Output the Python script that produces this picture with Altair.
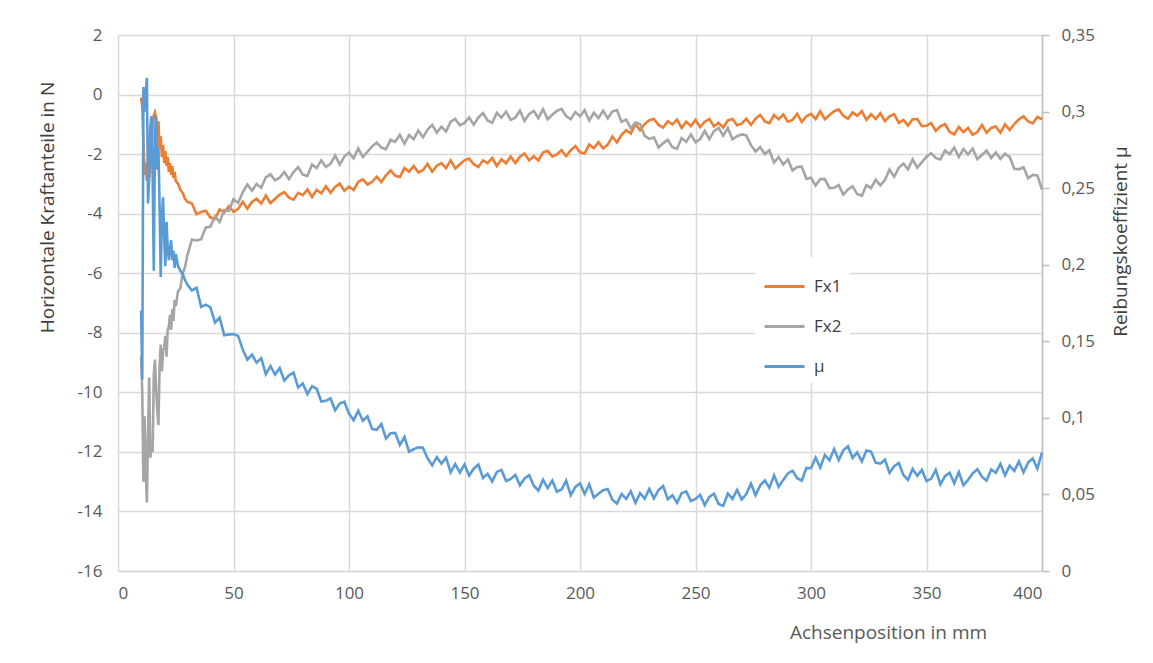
import altair as alt
import pandas as pd

# sample positions (mm)
x_pos = [10 + 0.5 * i for i in range(31)] + [26, 27, 28, 29, 30] + [32 + 2 * i for i in range(185)]

fx1 = [
    -0.1, -0.4, -1.6, -2.7, -2.3, -2.9, -2.1, -2.8, -2.4, -1.9,
    -1.1, -0.7, -0.6, -0.8, -1.4, -0.9, -1.8, -1.4, -2.1, -1.7,
    -2.3, -1.9, -2.4, -2.1, -2.6, -2.3, -2.7, -2.4, -2.8, -2.6, -2.9,
    -3.0, -3.2, -3.3, -3.5, -3.6,
    -3.66, -4.02, -3.94, -3.9, -4.13, -4.18, -3.86, -3.96, -3.75, -3.94,
    -3.84, -3.6, -3.83, -3.61, -3.5, -3.66, -3.39, -3.65, -3.5, -3.36,
    -3.28, -3.46, -3.53, -3.3, -3.38, -3.19, -3.44, -3.2, -3.32, -3.08,
    -3.3, -3.1, -2.99, -3.23, -3.09, -3.21, -2.93, -2.85, -3.02, -2.93,
    -2.76, -2.94, -2.71, -2.55, -2.73, -2.77, -2.47, -2.59, -2.4, -2.61,
    -2.54, -2.33, -2.59, -2.39, -2.3, -2.47, -2.21, -2.48, -2.34, -2.21,
    -2.15, -2.34, -2.43, -2.21, -2.3, -2.13, -2.4, -2.17, -2.31, -2.08,
    -2.3, -2.09, -1.98, -2.21, -2.07, -2.21, -1.95, -1.89, -2.08, -2.01,
    -1.87, -2.07, -1.87, -1.73, -1.94, -1.98, -1.68, -1.8, -1.6, -1.81,
    -1.68, -1.41, -1.61, -1.35, -1.2, -1.31, -0.99, -1.2, -0.99, -0.86,
    -0.82, -1.02, -1.11, -0.9, -1.0, -0.84, -1.12, -0.91, -1.06, -0.85,
    -1.09, -0.91, -0.82, -1.07, -0.95, -1.11, -0.87, -0.82, -1.03, -0.98,
    -0.81, -1.02, -0.81, -0.68, -0.9, -0.96, -0.69, -0.83, -0.67, -0.91,
    -0.85, -0.65, -0.92, -0.73, -0.65, -0.82, -0.56, -0.83, -0.69, -0.56,
    -0.5, -0.71, -0.81, -0.6, -0.71, -0.56, -0.85, -0.66, -0.82, -0.63,
    -0.89, -0.73, -0.66, -0.95, -0.85, -1.04, -0.83, -0.82, -1.06, -1.05,
    -0.96, -1.22, -1.07, -0.99, -1.25, -1.34, -1.09, -1.26, -1.12, -1.35,
    -1.26, -1.02, -1.28, -1.12, -1.07, -1.28, -1.0, -1.19, -0.99, -0.83,
    -0.73, -0.9, -0.97, -0.75, -0.83,
]

fx2 = [
    -8.8, -10.0, -13.0, -10.8, -12.6, -13.7, -11.4, -9.5, -12.2, -11.6,
    -12.0, -9.4, -8.9, -9.9, -10.6, -11.1, -9.1, -8.4, -9.3, -8.6,
    -8.5, -8.1, -8.8, -7.9, -7.8, -7.4, -7.9, -7.2, -7.6, -6.9, -7.1,
    -6.6, -6.5, -6.0, -5.8, -5.4,
    -4.87, -4.9, -4.86, -4.46, -4.44, -4.09, -4.28, -3.88, -3.91, -3.51,
    -3.64, -3.28, -3.02, -3.23, -3.0, -3.13, -2.78, -2.68, -2.88, -2.79,
    -2.6, -2.84, -2.6, -2.44, -2.69, -2.73, -2.35, -2.47, -2.21, -2.43,
    -2.33, -2.05, -2.35, -2.08, -1.95, -2.14, -1.81, -2.1, -1.92, -1.74,
    -1.61, -1.78, -1.83, -1.52, -1.59, -1.35, -1.65, -1.36, -1.5, -1.21,
    -1.44, -1.18, -1.02, -1.28, -1.08, -1.24, -0.91, -0.82, -1.03, -0.95,
    -0.77, -1.01, -0.77, -0.62, -0.87, -0.95, -0.61, -0.78, -0.57, -0.85,
    -0.78, -0.54, -0.88, -0.65, -0.55, -0.79, -0.49, -0.83, -0.68, -0.55,
    -0.48, -0.72, -0.83, -0.59, -0.73, -0.53, -0.87, -0.61, -0.79, -0.54,
    -0.8, -0.57, -0.52, -0.91, -0.84, -1.13, -0.94, -0.99, -1.39, -1.49,
    -1.44, -1.78, -1.63, -1.52, -1.77, -1.82, -1.46, -1.59, -1.34, -1.6,
    -1.5, -1.22, -1.5, -1.23, -1.12, -1.38, -1.12, -1.5, -1.4, -1.34,
    -1.37, -1.7, -1.91, -1.76, -2.0, -1.87, -2.28, -2.1, -2.35, -2.18,
    -2.55, -2.43, -2.42, -2.83, -2.79, -3.06, -2.84, -2.84, -3.14, -3.13,
    -3.04, -3.36, -3.19, -3.08, -3.34, -3.4, -3.04, -3.14, -2.86, -3.05,
    -2.87, -2.52, -2.76, -2.46, -2.32, -2.51, -2.18, -2.46, -2.27, -2.09,
    -1.97, -2.13, -2.18, -1.88, -2.0, -1.78, -2.1, -1.83, -2.01, -1.81,
    -2.17, -2.03, -1.88, -2.13, -1.94, -2.16, -1.99, -2.09, -2.49, -2.51,
    -2.44, -2.81, -2.7, -2.72, -3.19,
]

mu = [
    0.17, 0.125, 0.316, 0.30, 0.31, 0.322, 0.24, 0.257, 0.29, 0.297,
    0.258, 0.196, 0.285, 0.297, 0.262, 0.277, 0.238, 0.192, 0.232, 0.244,
    0.218, 0.199, 0.228, 0.212, 0.203, 0.21, 0.216, 0.203, 0.209, 0.198, 0.207,
    0.199, 0.196, 0.194, 0.19, 0.187,
    0.1832, 0.185, 0.1725, 0.1739, 0.1722, 0.1623, 0.1655, 0.154, 0.1545, 0.1547,
    0.1535, 0.1446, 0.138, 0.1413, 0.1361, 0.139, 0.1285, 0.1338, 0.1283, 0.1326,
    0.1244, 0.1278, 0.1295, 0.1198, 0.1225, 0.1155, 0.1207, 0.119, 0.1107, 0.1111,
    0.1127, 0.105, 0.1094, 0.1105, 0.1027, 0.0985, 0.1046, 0.0981, 0.101, 0.0928,
    0.0922, 0.096, 0.0865, 0.0899, 0.0902, 0.0823, 0.0875, 0.078, 0.0795, 0.0807,
    0.0805, 0.0736, 0.069, 0.0743, 0.0701, 0.074, 0.0645, 0.0698, 0.0643, 0.0696,
    0.0624, 0.0668, 0.0695, 0.0608, 0.0635, 0.0585, 0.0647, 0.066, 0.0587, 0.0601,
    0.0627, 0.056, 0.0604, 0.0625, 0.0557, 0.0525, 0.0596, 0.0541, 0.059, 0.0518,
    0.0532, 0.059, 0.0495, 0.0549, 0.0572, 0.0503, 0.0565, 0.048, 0.0505, 0.0527,
    0.0535, 0.0466, 0.044, 0.0503, 0.0471, 0.052, 0.0445, 0.0508, 0.0473, 0.0536,
    0.0474, 0.0528, 0.0555, 0.0468, 0.0495, 0.0445, 0.0507, 0.052, 0.0457, 0.0471,
    0.0497, 0.043, 0.0484, 0.0505, 0.0437, 0.0425, 0.0506, 0.0471, 0.053, 0.0468,
    0.0502, 0.057, 0.0495, 0.0559, 0.0592, 0.0543, 0.0625, 0.055, 0.0595, 0.0637,
    0.0655, 0.0606, 0.059, 0.0673, 0.0671, 0.074, 0.0675, 0.0758, 0.0723, 0.0796,
    0.0724, 0.0788, 0.0815, 0.0738, 0.0775, 0.0715, 0.0787, 0.078, 0.0707, 0.0701,
    0.0727, 0.064, 0.0684, 0.0705, 0.0627, 0.0595, 0.0666, 0.0621, 0.066, 0.0588,
    0.0602, 0.066, 0.0565, 0.0619, 0.0642, 0.0573, 0.0645, 0.056, 0.0595, 0.0637,
    0.0665, 0.0616, 0.059, 0.0663, 0.0641, 0.07, 0.0625, 0.0688, 0.0653, 0.0716,
    0.0644, 0.0708, 0.0735, 0.0668, 0.0775,
]

series_names = ["Fx1", "Fx2", "μ"]
series_colors = ["#ED7D31", "#A5A5A5", "#5B9BD5"]
x_ticks = [0, 50, 100, 150, 200, 250, 300, 350, 400]
left_ticks = [-16, -14, -12, -10, -8, -6, -4, -2, 0, 2]
right_ticks = [0, 0.05, 0.1, 0.15, 0.2, 0.25, 0.3, 0.35]

FONT = "Open Sans"
LABEL_COLOR = "#595959"
GRID = "#D9D9D9"

force_df = pd.DataFrame(
    {"x": x_pos * 2, "value": fx1 + fx2, "series": ["Fx1"] * len(x_pos) + ["Fx2"] * len(x_pos),
     "order": list(range(len(x_pos))) * 2}
)
mu_df = pd.DataFrame({"x": x_pos, "mu": mu, "series": ["μ"] * len(x_pos), "order": list(range(len(x_pos)))})

color = alt.Color(
    "series:N",
    scale=alt.Scale(domain=series_names, range=series_colors),
    legend=alt.Legend(
        title=None,
        orient="none",
        legendX=637,
        legendY=222,
        symbolType="stroke",
        symbolSize=1600,
        symbolStrokeWidth=3,
        labelFont=FONT,
        labelFontSize=17,
        labelColor="#404040",
        labelOffset=8,
        rowPadding=10,
        padding=8,
        fillColor="white",
    ),
)

x_enc = alt.X(
    "x:Q",
    scale=alt.Scale(domain=[0, 400], nice=False),
    axis=alt.Axis(
        values=x_ticks,
        grid=True,
        gridColor=GRID,
        gridWidth=1.5,
        domain=True,
        domainColor=GRID,
        domainWidth=1.5,
        ticks=False,
        labelPadding=14,
        labelFont=FONT,
        labelFontSize=17,
        labelColor=LABEL_COLOR,
        title="Achsenposition in mm",
        titleFont=FONT,
        titleFontSize=19,
        titleFontWeight="normal",
        titleColor=LABEL_COLOR,
        titleX=770,
        titleY=61,
        titleAlign="center",
        titleBaseline="middle",
    ),
)

force = (
    alt.Chart(force_df)
    .mark_line(strokeWidth=2.6)
    .encode(
        x=x_enc,
        y=alt.Y(
            "value:Q",
            scale=alt.Scale(domain=[-16, 2], nice=False, zero=False),
            axis=alt.Axis(
                values=left_ticks,
                grid=True,
                gridColor=GRID,
                gridWidth=1.5,
                domain=False,
                ticks=False,
                labelPadding=16,
                labelFont=FONT,
                labelFontSize=17,
                labelColor=LABEL_COLOR,
                labelExpr="toString(datum.value)",
                title="Horizontale Kraftanteile in N",
                titleFont=FONT,
                titleFontSize=19,
                titleFontWeight="normal",
                titleColor="#404040",
                titleAngle=270,
                titleX=-71,
                titleY=172,
                titleAlign="center",
                titleBaseline="middle",
            ),
        ),
        color=color,
        order="order:Q",
    )
)

mu_line = (
    alt.Chart(mu_df)
    .mark_line(strokeWidth=2.6)
    .encode(
        x=alt.X("x:Q", scale=alt.Scale(domain=[0, 400], nice=False)),
        y=alt.Y(
            "mu:Q",
            scale=alt.Scale(domain=[0, 0.35], nice=False),
            axis=alt.Axis(
                orient="right",
                values=right_ticks,
                grid=False,
                domain=True,
                domainColor="#BFBFBF",
                domainWidth=1.5,
                ticks=True,
                tickColor="#BFBFBF",
                tickWidth=1.5,
                tickSize=7,
                labelPadding=12,
                labelFont=FONT,
                labelFontSize=17,
                labelColor=LABEL_COLOR,
                labelExpr="replace(toString(datum.value), '.', ',')",
                title="Reibungskoeffizient  μ",
                titleFont=FONT,
                titleFontSize=19,
                titleFontWeight="normal",
                titleColor="#404040",
                titleAngle=270,
                titleX=78,
                titleY=206,
                titleAlign="center",
                titleBaseline="middle",
            ),
        ),
        color=color,
        order="order:Q",
    )
)

chart = (
    alt.layer(force, mu_line)
    .resolve_scale(y="independent")
    .properties(
        width=924,
        height=536,
        autosize=alt.AutoSizeParams(type="none"),
        padding={"left": 110, "top": 27, "right": 100, "bottom": 80},
        background="white",
    )
    .configure_view(stroke=None)
)

chart.save("out.html", embed_options={"renderer": "svg", "actions": False})
